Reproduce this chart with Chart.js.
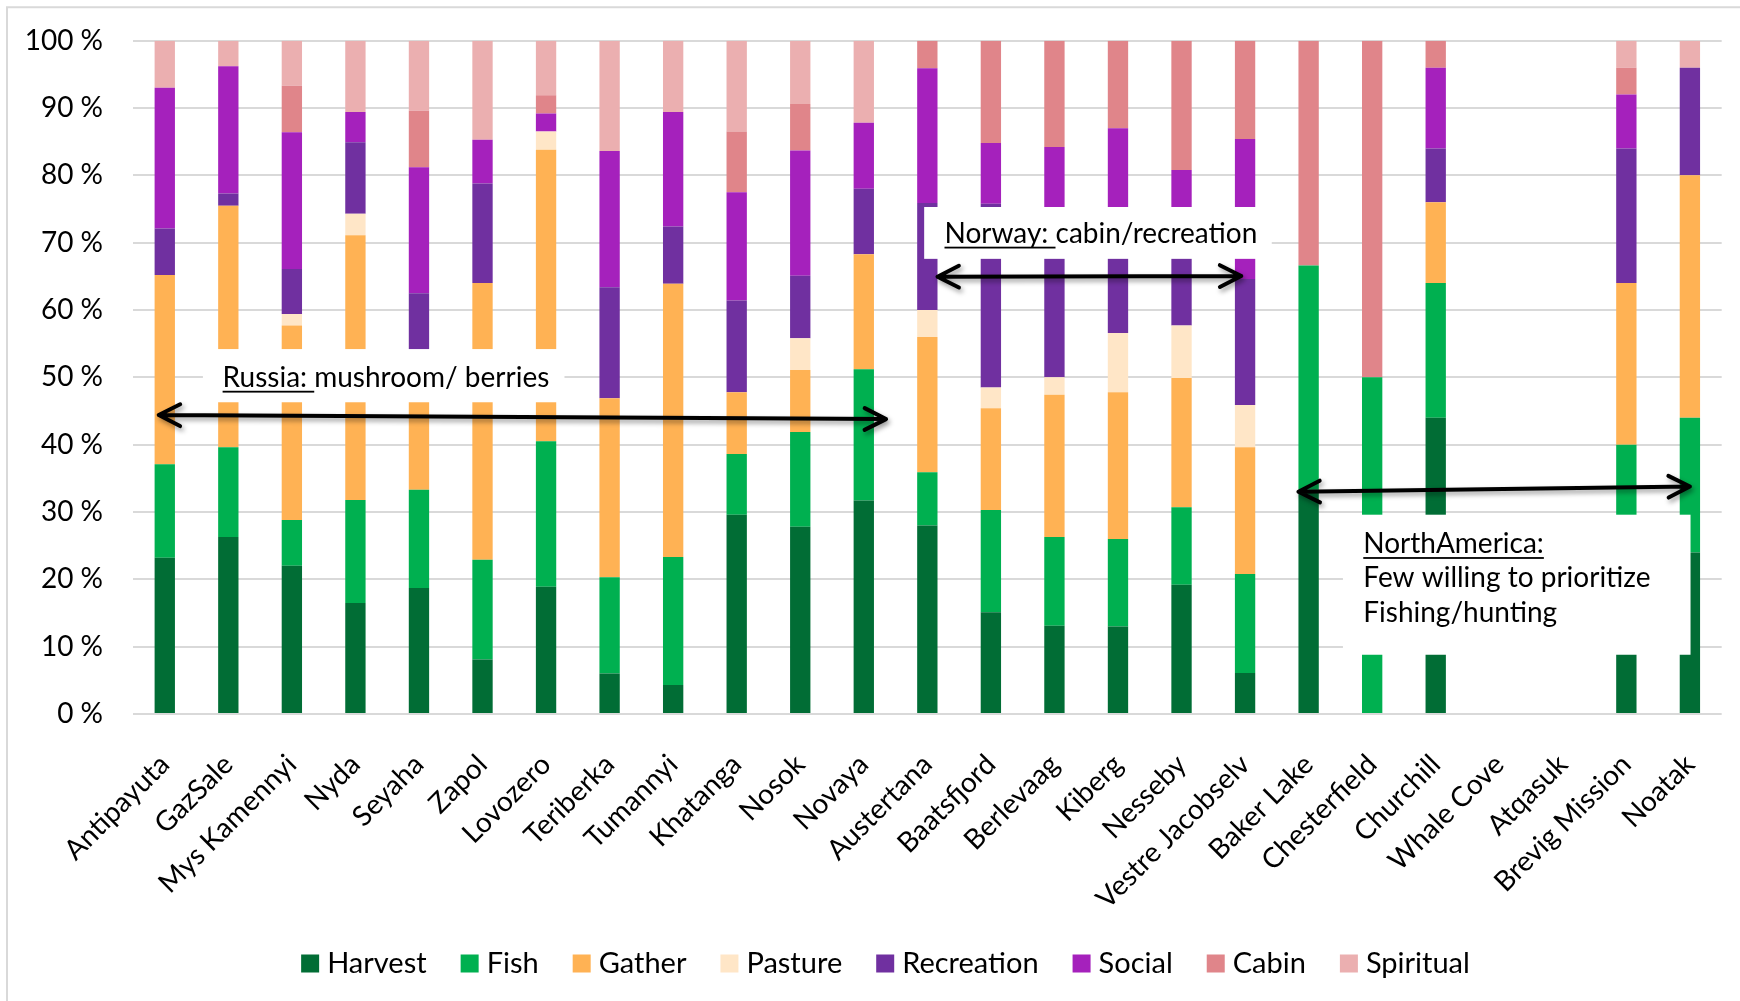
<!DOCTYPE html>
<html>
<head>
<meta charset="utf-8">
<title>Land use priorities by community</title>
<script src="https://cdn.jsdelivr.net/npm/chart.js@4.4.1/dist/chart.umd.min.js"></script>
<style>
  html, body { margin: 0; padding: 0; background: #ffffff; }
  #wrap { width: 1740px; height: 1001px; position: relative; }
</style>
</head>
<body>
<div id="wrap"><canvas id="chart" width="1740" height="1001"></canvas></div>
<script>
// Communities (x axis)
const categories = [
  'Antipayuta', 'GazSale', 'Mys Kamennyi', 'Nyda', 'Seyaha', 'Zapol', 'Lovozero',
  'Teriberka', 'Tumannyi', 'Khatanga', 'Nosok', 'Novaya', 'Austertana', 'Baatsfjord',
  'Berlevaag', 'Kiberg', 'Nesseby', 'Vestre Jacobselv', 'Baker Lake', 'Chesterfield',
  'Churchill', 'Whale Cove', 'Atqasuk', 'Brevig Mission', 'Noatak'
];

// Share of responses per land use (%), one value per community
const harvest    = [23.2, 26.3, 22.0, 16.5, 18.7,  8.1, 18.9,  6.0,  4.3, 29.6, 27.8, 31.7, 28.0, 15.1, 13.1, 13.0, 19.2,  6.1, 33.3,  0, 44, 0, 0, 28, 24];
const fish       = [13.9, 13.3,  6.8, 15.3, 14.6, 14.8, 21.6, 14.3, 19.0,  9.0, 14.1, 19.5,  7.9, 15.2, 13.2, 13.0, 11.5, 14.7, 33.3, 50, 20, 0, 0, 12, 20];
const gather     = [28.1, 35.9, 28.9, 39.3, 16.7, 41.1, 43.3, 26.6, 40.6,  9.2,  9.2, 17.1, 20.1, 15.1, 21.1, 21.8, 19.2, 18.8,  0,    0, 12, 0, 0, 24, 36];
const pasture    = [ 0,    0,    1.7,  3.2,  0,    0,    2.7,  0,    0,    0,    4.7,  0,    4.0,  3.1,  2.6,  8.8,  7.8,  6.3,  0,    0,  0, 0, 0,  0,  0];
const recreation = [ 6.9,  1.8,  6.7, 10.6, 12.5, 14.8,  0,   16.5,  8.5, 13.6,  9.3,  9.7, 15.9, 27.3, 22.0, 13.4, 15.4, 18.7,  0,    0,  8, 0, 0, 20, 16];
const social     = [20.9, 18.9, 20.3,  4.5, 18.7,  6.5,  2.7, 20.2, 17.0, 16.1, 18.6,  9.8, 20.0,  9.0, 12.2, 17.0,  7.7, 20.8,  0,    0, 12, 0, 0,  8,  0];
const cabin      = [ 0,    0,    6.9,  0,    8.4,  0,    2.7,  0,    0,    9.0,  6.9,  0,    4.1, 15.2, 15.8, 13.0, 19.2, 14.6, 33.4, 50,  4, 0, 0,  4,  0];
const spiritual  = [ 7.0,  3.8,  6.7, 10.6, 10.4, 14.7,  8.1, 16.4, 10.6, 13.5,  9.4, 12.2,  0,    0,    0,    0,    0,    0,    0,    0,  0, 0, 0,  4,  4];

const seriesNames = ['Harvest', 'Fish', 'Gather', 'Pasture', 'Recreation', 'Social', 'Cabin', 'Spiritual'];
const seriesValues = [harvest, fish, gather, pasture, recreation, social, cabin, spiritual];
const seriesColors = ['#016D35', '#00B050', '#FFB254', '#FFE6C7', '#7030A0', '#A521BC', '#E0858A', '#EBAFB0'];

// Value axis tick labels
const yTickLabels = ['0 %', '10 %', '20 %', '30 %', '40 %', '50 %', '60 %', '70 %', '80 %', '90 %', '100 %'];

// Regional notes: boxes and text anchored in (category index, percent) units
const notes = [
  { box: [0.60, 54.2, 6.29, 46.3], tx: 0.91,
    lines: [{ u: 'Russia: ', t: 'mushroom/ berries', y: 48.6 }] },
  { box: [11.95, 75.3, 17.42, 67.6], tx: 12.27,
    lines: [{ u: 'Norway: ', t: 'cabin/recreation', y: 70.0 }] },
  { box: [18.54, 29.6, 24.01, 8.8], tx: 18.86,
    lines: [{ u: 'NorthAmerica:', t: '', y: 23.9 },
            { u: '', t: 'Few willing to prioritize', y: 18.9 },
            { u: '', t: 'Fishing/hunting', y: 13.7 }] }
];
// Double-headed arrows spanning each region: [index, percent] -> [index, percent]
const spans = [
  [[-0.095, 44.4], [11.35, 43.8]],
  [[12.16, 64.95], [16.94, 65.05]],
  [[17.84, 33.0], [24.0, 33.8]]
];

const FONT = 'Lato, "Open Sans", "DejaVu Sans", sans-serif';

const framePlugin = {
  id: 'frame',
  beforeDraw(chart) {
    const c = chart.ctx;
    c.save();
    c.fillStyle = '#ffffff';
    c.fillRect(0, 0, chart.width, chart.height);
    c.strokeStyle = '#D9D9D9';
    c.lineWidth = 2;
    c.beginPath();
    c.moveTo(7, chart.height);
    c.lineTo(7, 7.3);
    c.lineTo(chart.width, 7.3);
    c.stroke();
    c.restore();
  }
};

function drawDoubleArrow(c, ax, ay, bx, by) {
  const ang = Math.atan2(by - ay, bx - ax);
  const L = 24, spread = 0.47;
  c.beginPath();
  c.moveTo(ax, ay);
  c.lineTo(bx, by);
  const heads = [[bx, by, ang + Math.PI], [ax, ay, ang]];
  for (const [px, py, a] of heads) {
    c.moveTo(px + L * Math.cos(a - spread), py + L * Math.sin(a - spread));
    c.lineTo(px, py);
    c.lineTo(px + L * Math.cos(a + spread), py + L * Math.sin(a + spread));
  }
  c.stroke();
}

const notesPlugin = {
  id: 'regionNotes',
  afterDatasetsDraw(chart) {
    const c = chart.ctx;
    const xs = chart.scales.x, ys = chart.scales.y;
    c.save();
    notes.forEach(n => {
      const x0 = xs.getPixelForValue(n.box[0]), x1 = xs.getPixelForValue(n.box[2]);
      const y0 = ys.getPixelForValue(n.box[1]), y1 = ys.getPixelForValue(n.box[3]);
      c.fillStyle = '#ffffff';
      c.fillRect(x0, y0, x1 - x0, y1 - y0);
      c.font = '28px ' + FONT;
      c.textBaseline = 'alphabetic';
      c.textAlign = 'left';
      c.fillStyle = '#000000';
      n.lines.forEach(l => {
        let tx = xs.getPixelForValue(n.tx);
        const ty = ys.getPixelForValue(l.y);
        if (l.u) {
          c.fillText(l.u, tx, ty);
          const w = c.measureText(l.u).width;
          c.fillRect(tx, ty + 4, w, 1.8);
          tx += w;
        }
        if (l.t) c.fillText(l.t, tx, ty);
      });
    });
    c.strokeStyle = '#000000';
    c.lineWidth = 4;
    c.lineCap = 'round';
    c.lineJoin = 'round';
    c.shadowColor = 'rgba(0,0,0,0.40)';
    c.shadowBlur = 5;
    c.shadowOffsetX = 2;
    c.shadowOffsetY = 3;
    spans.forEach(s => {
      drawDoubleArrow(c,
        xs.getPixelForValue(s[0][0]), ys.getPixelForValue(s[0][1]),
        xs.getPixelForValue(s[1][0]), ys.getPixelForValue(s[1][1]));
    });
    c.restore();
  }
};

const legendPlugin = {
  id: 'legendRow',
  afterDraw(chart) {
    const c = chart.ctx;
    const items = chart.data.datasets.map(d => ({ text: d.label, color: d.backgroundColor }));
    const box = 18, textGap = 8, itemGap = 34;
    c.save();
    c.font = '29px ' + FONT;
    const widths = items.map(it => box + textGap + c.measureText(it.text).width);
    const total = widths.reduce((a, b) => a + b, 0) + itemGap * (items.length - 1);
    let x = chart.width / 2 + 15.5 - total / 2;
    const baseline = chart.height - 28.5;
    c.textBaseline = 'alphabetic';
    c.textAlign = 'left';
    items.forEach((it, i) => {
      c.fillStyle = it.color;
      c.fillRect(x, baseline - box, box, box);
      c.fillStyle = '#000000';
      c.fillText(it.text, x + box + textGap, baseline);
      x += widths[i] + itemGap;
    });
    c.restore();
  }
};

new Chart(document.getElementById('chart'), {
  type: 'bar',
  data: {
    labels: categories,
    datasets: seriesNames.map((name, i) => ({
      label: name,
      data: seriesValues[i],
      backgroundColor: seriesColors[i],
      borderWidth: 0,
      barPercentage: 0.32,
      categoryPercentage: 1.0
    }))
  },
  options: {
    responsive: false,
    animation: false,
    devicePixelRatio: 1,
    layout: { padding: { top: 40.7, right: 17, bottom: 87, left: 0 } },
    plugins: {
      legend: { display: false },
      tooltip: { enabled: false }
    },
    scales: {
      x: {
        stacked: true,
        grid: { display: false },
        border: { display: false },
        ticks: {
          autoSkip: false,
          minRotation: 45,
          maxRotation: 45,
          padding: 26,
          color: '#000000',
          font: { family: FONT, size: 28 }
        },
        afterFit(scale) { scale.height = 200; }
      },
      y: {
        stacked: true,
        min: 0,
        max: 100,
        grid: { color: '#D9D9D9', lineWidth: 2, drawTicks: true, tickLength: 30, tickColor: 'rgba(0,0,0,0)' },
        border: { display: false },
        ticks: {
          stepSize: 10,
          padding: 0,
          color: '#000000',
          font: { family: FONT, size: 28 },
          callback: (v, i) => yTickLabels[i]
        },
        afterFit(scale) { scale.width = 133; }
      }
    }
  },
  plugins: [framePlugin, notesPlugin, legendPlugin]
});
</script>
</body>
</html>
